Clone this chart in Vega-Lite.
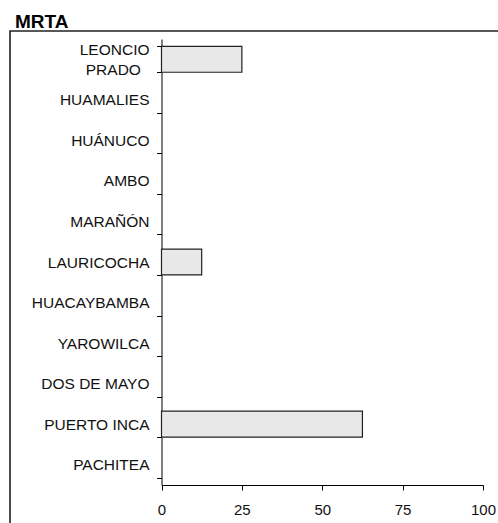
{
  "$schema": "https://vega.github.io/schema/vega-lite/v6.json",
  "autosize": "none",
  "padding": {"left": 10, "top": 31, "right": -2, "bottom": -3},
  "width": 490,
  "height": 495,
  "background": "white",
  "title": {
    "text": "MRTA",
    "anchor": "start",
    "frame": "group",
    "font": "Liberation Sans",
    "fontSize": 19,
    "fontWeight": "bold",
    "color": "#000",
    "baseline": "alphabetic",
    "offset": 4.5,
    "dx": 5,
    "dy": 27
  },
  "data": {
    "values": [
      {"provincia": "LEONCIO PRADO", "valor": 25},
      {"provincia": "HUAMALIES", "valor": 0},
      {"provincia": "HUÁNUCO", "valor": 0},
      {"provincia": "AMBO", "valor": 0},
      {"provincia": "MARAÑÓN", "valor": 0},
      {"provincia": "LAURICOCHA", "valor": 12.5},
      {"provincia": "HUACAYBAMBA", "valor": 0},
      {"provincia": "YAROWILCA", "valor": 0},
      {"provincia": "DOS DE MAYO", "valor": 0},
      {"provincia": "PUERTO INCA", "valor": 62.5},
      {"provincia": "PACHITEA", "valor": 0}
    ]
  },
  "mark": {"type": "bar", "fill": "#e8e8e8", "stroke": "#222", "strokeWidth": 1.2},
  "encoding": {
    "y": {
      "field": "provincia",
      "type": "nominal",
      "sort": null,
      "scale": {"range": [8, 454], "paddingInner": 0.36, "paddingOuter": 0.18},
      "axis": {
        "title": null,
        "offset": -151.5,
        "tickBand": "extent",
        "tickSize": 5,
        "tickColor": "#000",
        "domainColor": "#000",
        "labelPadding": 7.5,
        "labelFont": "Liberation Sans",
        "labelFontSize": 15.5,
        "labelColor": "#111",
        "labelLineHeight": 20,
        "labelOffset": {"condition": {"test": "datum.value == 'LEONCIO PRADO'", "value": -10}, "value": 0},
        "labelExpr": "datum.value == 'LEONCIO PRADO' ? ['LEONCIO', 'PRADO\u00a0\u00a0\u200b'] : datum.value",
        "labelLimit": 200
      }
    },
    "x": {
      "field": "valor",
      "type": "quantitative",
      "scale": {"domain": [0, 100], "range": [151.5, 473], "nice": false},
      "axis": {
        "title": null,
        "offset": -41,
        "values": [0, 25, 50, 75, 100],
        "grid": false,
        "tickSize": 5,
        "tickColor": "#000",
        "domainColor": "#000",
        "labelPadding": 12,
        "labelFont": "Liberation Sans",
        "labelFontSize": 15,
        "labelColor": "#111",
        "labelFlush": false,
        "labelOverlap": false
      }
    },
    "strokeOpacity": {"condition": {"test": "datum.valor > 0", "value": 1}, "value": 0}
  },
  "config": {
    "view": {"stroke": "#222", "strokeWidth": 1.6, "fill": "white"}
  }
}
